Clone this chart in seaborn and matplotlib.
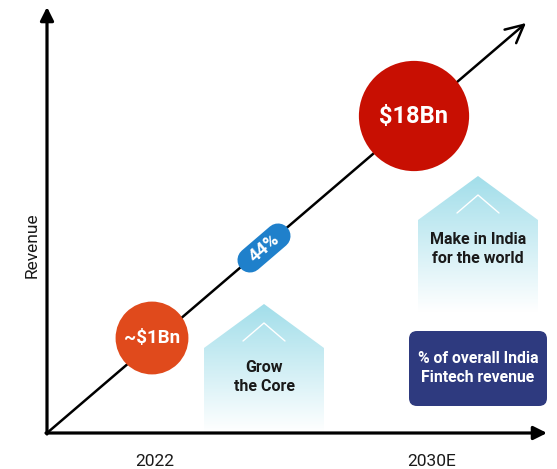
import numpy as np
import pandas as pd
import matplotlib.pyplot as plt
import seaborn as sns
from matplotlib.patches import Polygon, FancyBboxPatch
from matplotlib.colors import LinearSegmentedColormap

# chart data
years = ["2022", "2030E"]
revenue_bn = [1, 18]
revenue_labels = ["~$1Bn", "$18Bn"]
bubble_colors = ["#e04a1c", "#c80f02"]
cagr_label = "44%"
house_labels = ["Grow\nthe Core", "Make in India\nfor the world"]
legend_label = "% of overall India\nFintech revenue"
y_title = "Revenue"

sns.set_theme(style="white")
plt.rcParams["font.family"] = ["Roboto", "DejaVu Sans"]

fig = plt.figure(figsize=(5.57, 4.69), dpi=100)
ax = fig.add_axes([0, 0, 1, 1])
ax.set_xlim(0, 557)
ax.set_ylim(469, 0)
ax.axis("off")

# layout (pixel-like canvas units)
origin = (47, 433)
diag_tip = (526, 23)
bubble_xy = [(152, 338), (414, 116)]
year_x = [155, 432]
house_boxes = [(204, 324, 304, 348, 432), (418, 538, 176, 220, 312)]

# axes arrows
arrow_kw = dict(arrowstyle="-|>", lw=2.3, color="black", mutation_scale=20, shrinkA=0, shrinkB=0)
ax.annotate("", xy=(47, 7), xytext=(origin[0], origin[1] + 1), arrowprops=arrow_kw, zorder=3)
ax.annotate("", xy=(547, 433), xytext=(origin[0] - 1, origin[1]), arrowprops=arrow_kw, zorder=3)
# growth diagonal
ax.annotate("", xy=diag_tip, xytext=origin,
            arrowprops=dict(arrowstyle="->", lw=1.8, color="black", mutation_scale=32,
                            shrinkA=0, shrinkB=0), zorder=2)

# houses with gradient fill
cmap = LinearSegmentedColormap.from_list("house", ["#a2deea", "#ffffff"])
grad = np.linspace(0, 1, 256).reshape(-1, 1)
for (x0, x1, peak, shoulder, bottom), label in zip(house_boxes, house_labels):
    xm = (x0 + x1) / 2
    poly = Polygon([(x0, bottom), (x0, shoulder), (xm, peak), (x1, shoulder), (x1, bottom)],
                   closed=True, fc="none", ec="none")
    ax.add_patch(poly)
    im = ax.imshow(grad, cmap=cmap, extent=(x0, x1, bottom, peak), aspect="auto", zorder=1)
    im.set_clip_path(poly)
    ax.plot([xm - 21, xm, xm + 21], [peak + 37, peak + 19, peak + 37], color="white", lw=1, zorder=2)
    ax.text(xm, peak + 73, label, ha="center", va="center", fontsize=11.5, fontweight="bold",
            color="#1a1a1a", linespacing=1.3, zorder=3)
ax.set_xlim(0, 557)
ax.set_ylim(469, 0)

# revenue bubbles
df = pd.DataFrame({"year": years, "revenue": revenue_bn, "label": revenue_labels,
                   "x": [p[0] for p in bubble_xy], "y": [p[1] for p in bubble_xy]})
sns.scatterplot(data=df, x="x", y="y", hue="label", size="revenue", sizes=(2750, 6300),
                palette=dict(zip(revenue_labels, bubble_colors)), linewidth=0,
                legend=False, ax=ax, zorder=4)
for (x, y), lab, fs in zip(bubble_xy, revenue_labels, [13.5, 17]):
    ax.text(x, y, lab, ha="center", va="center", color="white", fontsize=fs,
            fontweight="bold", zorder=5)

# CAGR pill on the diagonal
pc, ang, half = (264, 248), np.radians(40.6), 18.5
ax.plot([pc[0] - half * np.cos(ang), pc[0] + half * np.cos(ang)],
        [pc[1] + half * np.sin(ang), pc[1] - half * np.sin(ang)],
        color="#1f80cb", lw=18, solid_capstyle="round", zorder=4)
ax.text(pc[0], pc[1], cagr_label, rotation=40.6, rotation_mode="anchor", ha="center", va="center",
        color="white", fontsize=13, fontweight="bold", zorder=5)

# navy legend box
ax.add_patch(FancyBboxPatch((413, 335), 130, 67, boxstyle="round,pad=4,rounding_size=8",
                            fc="#2e3a7f", ec="none", zorder=3))
ax.text(478, 368, legend_label, ha="center", va="center", color="white", fontsize=11.3,
        fontweight="bold", linespacing=1.3, zorder=4)

# axis texts
for x, yr in zip(year_x, years):
    ax.text(x, 461, yr, ha="center", va="center", fontsize=12.5, color="#1a1a1a")
ax.text(32, 245, y_title, rotation=90, ha="center", va="center", fontsize=12.5, color="#1a1a1a")

fig.savefig("out.png", dpi=100)
